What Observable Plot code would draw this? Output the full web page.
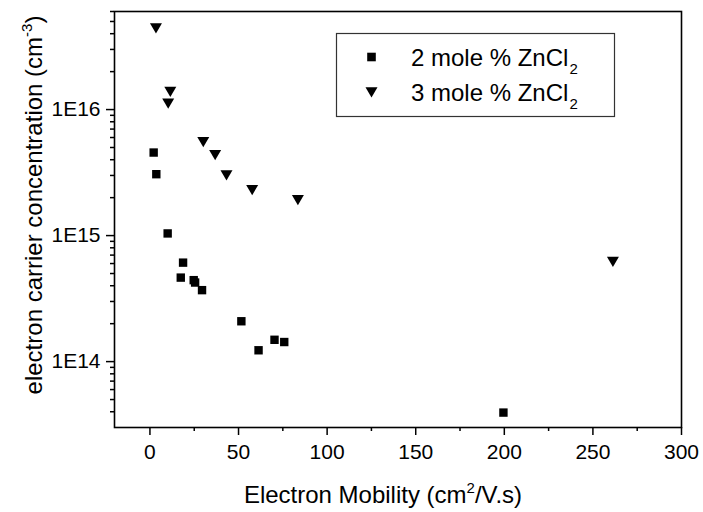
<!DOCTYPE html>
<html>
<head>
<meta charset="utf-8">
<script src="https://cdn.jsdelivr.net/npm/d3@7"></script>
<script src="https://cdn.jsdelivr.net/npm/@observablehq/plot@0.6"></script>
<style>
  html, body { margin: 0; padding: 0; background: #fff; }
  #chart { position: relative; width: 703px; height: 512px; }
  svg { font-family: "Liberation Sans", Arial, sans-serif; overflow: visible; }
</style>
</head>
<body>
<div id="chart"></div>
<script>
// ---- data ----
const mobility2 = [2.1, 3.6, 10.0, 18.7, 17.4, 24.7, 25.5, 29.4, 51.6, 61.3, 70.3, 75.8, 199.5];
const carrier2  = [4.56e15, 3.07e15, 1.04e15, 6.1e14, 4.64e14, 4.43e14, 4.24e14, 3.69e14, 2.09e14, 1.23e14, 1.49e14, 1.43e14, 3.94e13];
const mobility3 = [3.4, 11.5, 10.3, 30.1, 36.8, 43.2, 57.7, 83.5, 261.3];
const carrier3  = [4.43e16, 1.39e16, 1.12e16, 5.54e15, 4.37e15, 3.02e15, 2.31e15, 1.92e15, 6.22e14];

const seriesNames = ["2 mole % ZnCl", "3 mole % ZnCl"];
const xTicks = [0, 50, 100, 150, 200, 250, 300];
const xTickLabels = ["0", "50", "100", "150", "200", "250", "300"];
const xMinorTicks = [25, 75, 125, 175, 225, 275];
const yTicks = [1e14, 1e15, 1e16];
const yTickLabels = ["1E14", "1E15", "1E16"];
const yMinorTicks = [4e13,5e13,6e13,7e13,8e13,9e13,
  2e14,3e14,4e14,5e14,6e14,7e14,8e14,9e14,
  2e15,3e15,4e15,5e15,6e15,7e15,8e15,9e15,
  2e16,3e16,4e16,5e16,6e16];
const xTitle = ["Electron Mobility (cm", "2", "/V.s)"];
const yTitle = ["electron carrier concentration (cm", "-3", ")"];

const set2 = mobility2.map((x, i) => ({x, y: carrier2[i]}));
const set3 = mobility3.map((x, i) => ({x, y: carrier3[i]}));

// ---- symbols ----
const squareSym = {draw(ctx, size) { const r = Math.sqrt(size / Math.PI); ctx.rect(-r, -r, 2 * r, 2 * r); }};
const triDownSym = {draw(ctx, size) {
  const r = Math.sqrt(size / Math.PI);
  ctx.moveTo(-r, -0.8 * r); ctx.lineTo(r, -0.8 * r); ctx.lineTo(0, 0.9 * r); ctx.closePath();
}};

const W = 703, H = 512;
const mL = 114, mR = 22, mT = 11, mB = 85;
const tickFont = 21;

const svg = Plot.plot({
  width: W, height: H,
  marginLeft: mL, marginRight: mR, marginTop: mT, marginBottom: mB,
  style: {background: "white", color: "black", fontFamily: '"Liberation Sans", Arial, sans-serif'},
  x: {domain: [-20, 300]},
  y: {type: "log", domain: [3e13, 6e16]},
  marks: [
    Plot.axisX({ticks: xTicks, tickSize: 8, tickPadding: 9, strokeWidth: 1.5, fontSize: tickFont,
      tickFormat: d => xTickLabels[xTicks.indexOf(d)], label: null}),
    Plot.axisX({ticks: xMinorTicks, tickSize: 4, strokeWidth: 1.5, text: null, label: null}),
    Plot.axisY({ticks: yTicks, tickSize: 8, tickPadding: 6, strokeWidth: 1.5, fontSize: tickFont,
      tickFormat: d => yTickLabels[yTicks.indexOf(d)], label: null}),
    Plot.axisY({ticks: yMinorTicks, tickSize: 4, strokeWidth: 1.5, text: null, label: null}),
    Plot.dot(set2, {x: "x", y: "y", symbol: squareSym, r: 4.2, fill: "black", stroke: "none"}),
    Plot.dot(set3, {x: "x", y: "y", symbol: triDownSym, r: 6, fill: "black", stroke: "none"}),
    Plot.frame({stroke: "black", strokeWidth: 1.6})
  ]
});
document.getElementById("chart").appendChild(svg);

const s = d3.select(svg);
const font = '"Liberation Sans", Arial, sans-serif';

// x axis title
const xt = s.append("text").attr("x", 383).attr("y", 503).attr("text-anchor", "middle")
  .attr("font-size", 24).attr("font-family", font).attr("fill", "black");
xt.append("tspan").text(xTitle[0]);
xt.append("tspan").attr("font-size", 15).attr("dy", -10).text(xTitle[1]);
xt.append("tspan").attr("dy", 10).text(xTitle[2]);

// y axis title
const yt = s.append("text").attr("transform", "translate(42,205) rotate(-90)").attr("text-anchor", "middle")
  .attr("font-size", 24).attr("font-family", font).attr("fill", "black");
yt.append("tspan").text(yTitle[0]);
yt.append("tspan").attr("font-size", 15).attr("dy", -10).text(yTitle[1]);
yt.append("tspan").attr("dy", 10).text(yTitle[2]);

// legend
const lg = s.append("g");
lg.append("rect").attr("x", 336.5).attr("y", 33.5).attr("width", 278).attr("height", 83)
  .attr("fill", "white").attr("stroke", "#333").attr("stroke-width", 1.2);
const syms = [squareSym, triDownSym];
const rs = [4.3, 6];
const rowsY = [57, 92];
seriesNames.forEach((name, i) => {
  lg.append("path").attr("transform", `translate(371.5,${rowsY[i]})`)
    .attr("d", d3.symbol(syms[i], Math.PI * rs[i] * rs[i])()).attr("fill", "black");
  const t = lg.append("text").attr("x", 411).attr("y", rowsY[i] + 8.5).attr("text-anchor", "start")
    .attr("font-size", 24).attr("font-family", font).attr("fill", "black");
  t.append("tspan").text(name);
  t.append("tspan").attr("font-size", 15).attr("dy", 8).attr("dx", 1).text("2");
});
</script>
</body>
</html>
